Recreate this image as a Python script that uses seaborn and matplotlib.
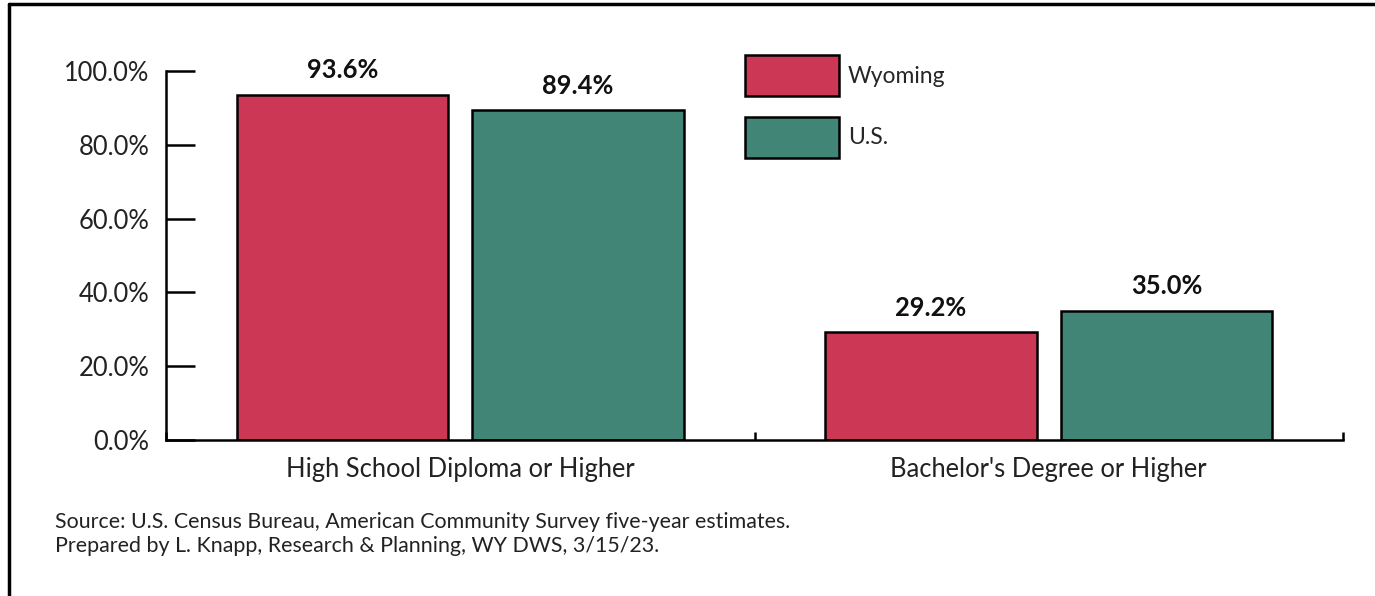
import pandas as pd
import matplotlib
matplotlib.use('Agg')
import seaborn as sns
import matplotlib.pyplot as plt
from matplotlib.lines import Line2D

# educational attainment, Wyoming vs U.S.
categories = ['High School Diploma or Higher', "Bachelor's Degree or Higher"]
regions = ['Wyoming', 'U.S.']
wyoming = [93.6, 29.2]
us = [89.4, 35.0]
colors = ['#CB3754', '#418577']

df = pd.DataFrame({
	'category': categories * 2,
	'region': [regions[0]] * 2 + [regions[1]] * 2,
	'pct': wyoming + us,
})

sns.set_style('white')
plt.rcParams['font.family'] = ['Lato', 'DejaVu Sans']

fig = plt.figure(figsize=(13.75, 5.96), dpi=100)
ax = fig.add_axes([166/1375, 1-440/596, (1343-166)/1375, (440-71)/596])

sns.barplot(data=df, x='category', y='pct', hue='region', order=categories,
	hue_order=regions, palette=colors, width=0.8, gap=0.1,
	edgecolor='black', linewidth=1.8, saturation=1, ax=ax)

for cont in ax.containers:
	ax.bar_label(cont, labels=['%.1f%%' % v for v in cont.datavalues],
		padding=9, fontsize=18.4, fontweight='bold', color='#111111')

ax.set_ylim(0, 100)
ax.set_xlim(-0.5, 1.5)
ax.set_yticks([0, 20, 40, 60, 80, 100])
ax.set_yticklabels(['%.1f%%' % t for t in [0, 20, 40, 60, 80, 100]], fontsize=18.4, color='#222222')
ax.set_xticklabels(categories, fontsize=18.4, color='#222222')
ax.set_xlabel('')
ax.set_ylabel('')

for s in ['top', 'right']:
	ax.spines[s].set_visible(False)
for s in ['left', 'bottom']:
	ax.spines[s].set_color('black')
	ax.spines[s].set_linewidth(1.8)

ax.tick_params(axis='y', left=True, direction='in', length=21, width=1.8, color='black', pad=12)
ax.tick_params(axis='x', length=0, pad=12)
# category separators on the bottom axis
ax.set_xticks([-0.5, 0.5, 1.5], minor=True)
ax.tick_params(axis='x', which='minor', bottom=True, direction='in', length=6, width=1.8, color='black')

ax.legend(loc='upper left', bbox_to_anchor=(745/1375, 1-55/596), bbox_transform=fig.transFigure,
	frameon=False, fontsize=16.5, handlelength=4.1, handleheight=2.4,
	labelspacing=0.88, handletextpad=0.4, borderpad=0, borderaxespad=0)

fig.text(55/1375, 1-522/596, 'Source: U.S. Census Bureau, American Community Survey five-year estimates.',
	fontsize=15.4, color='#222222', va='center')
fig.text(55/1375, 1-546/596, 'Prepared by L. Knapp, Research & Planning, WY DWS, 3/15/23.',
	fontsize=15.4, color='#222222', va='center')

# outer frame (top and left only)
fig.add_artist(Line2D([9/1375, 9/1375], [0, 1-4/596], transform=fig.transFigure, color='black', lw=2.5))
fig.add_artist(Line2D([9/1375, 1], [1-4/596, 1-4/596], transform=fig.transFigure, color='black', lw=2.5))

fig.savefig('out.png', dpi=100)
